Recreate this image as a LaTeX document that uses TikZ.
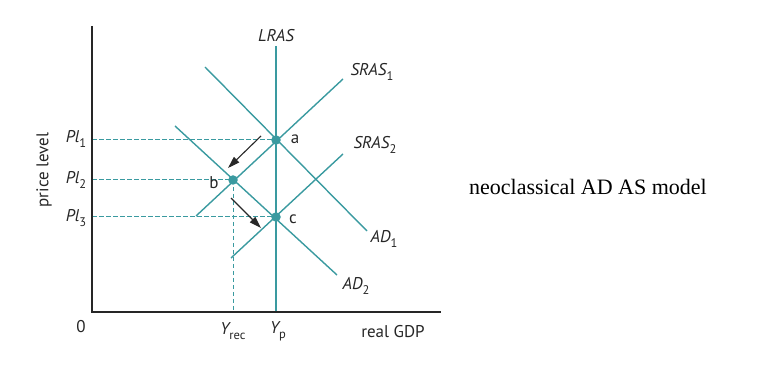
\documentclass[tikz,border=0pt]{standalone}
\usepackage{fontspec}
\setmainfont{Liberation Serif}
\newfontfamily\labfont{PT Sans}
\usetikzlibrary{arrows.meta}
\definecolor{tealc}{RGB}{58,154,160}
\definecolor{arrc}{RGB}{40,40,40}
\newcommand{\lsub}[1]{\raisebox{-0.55ex}{\fontsize{12.5}{12.5}\selectfont\upshape #1}}
\begin{document}
\begin{tikzpicture}[x=1pt,y=-1pt,
  curve/.style={tealc, line width=1.4pt},
  guide/.style={tealc, line width=1pt, dash pattern=on 4.5pt off 2.5pt},
  axis/.style={black!85, line width=1.6pt},
  dotpt/.style={circle, fill=tealc, inner sep=0pt, minimum size=9.5pt},
  movearrow/.style={arrc, line width=1.1pt, -{Triangle[length=12pt,width=7.5pt]}},
  lbl/.style={font=\labfont\fontsize{17}{17}\selectfont\itshape, text=black!85, inner sep=1pt},
  plain/.style={font=\labfont\fontsize{17}{17}\selectfont, text=black!85, inner sep=1pt}]
\useasboundingbox (0,0) rectangle (761,374);
% key coordinates
\coordinate (o) at (92,312);
\coordinate (ytop) at (92,26);
\coordinate (xend) at (441,312);
\coordinate (a) at (276,140);
\coordinate (b) at (233,180);
\coordinate (c) at (276,217);
\coordinate (p1) at (92,140);
\coordinate (p2) at (92,180);
\coordinate (p3) at (92,217);
\coordinate (yrecax) at (233,312);
\coordinate (lt) at (276,46);
\coordinate (lb) at (276,312);
\coordinate (s1a) at (196,216);
\coordinate (s1b) at (343,79);
\coordinate (s2a) at (231,258);
\coordinate (s2b) at (343,154);
\coordinate (d1a) at (205,67);
\coordinate (d1b) at (367,231);
\coordinate (d2a) at (175,126);
\coordinate (d2b) at (337,275);
\coordinate (ar1s) at (261,136);
\coordinate (ar1e) at (228,168);
\coordinate (ar2s) at (231,198);
\coordinate (ar2e) at (261,228);
% guides
\draw[guide] (p1) -- (a);
\draw[guide] (p2) -- (b);
\draw[guide] (p3) -- (c);
\draw[guide] (b) -- (yrecax);
% curves
\draw[curve] (lt) -- (lb);
\draw[curve] (s1a) -- (s1b);
\draw[curve] (s2a) -- (s2b);
\draw[curve] (d1a) -- (d1b);
\draw[curve] (d2a) -- (d2b);
% axes
\draw[axis] (ytop) -- (o) -- (xend);
% dots
\node[dotpt] (da) at (a) {};
\node[dotpt] (db) at (b) {};
\node[dotpt] (dc) at (c) {};
% shift arrows
\draw[movearrow] (ar1s) -- (ar1e);
\draw[movearrow] (ar2s) -- (ar2e);
% labels
\node[lbl] (tlras) at (276,36) {LRAS};
\node[lbl] (tsras1) at (372,72) {SRAS\lsub{1}};
\node[lbl] (tsras2) at (375,145) {SRAS\lsub{2}};
\node[lbl] (tad1) at (384,239) {AD\lsub{1}};
\node[lbl] (tad2) at (356,286) {AD\lsub{2}};
\node[plain] (ta) at (295,139) {a};
\node[plain] (tb) at (214,183) {b};
\node[plain] (tc) at (293,219) {c};
\node[lbl] (tp1) at (76,139) {Pl\lsub{1}};
\node[lbl] (tp2) at (76,180) {Pl\lsub{2}};
\node[lbl] (tp3) at (76,218) {Pl\lsub{3}};
\node[plain, rotate=90] (tprice) at (44,170) {price level};
\node[plain] (tzero) at (81,327) {0};
\node[plain] (tyrec) at (233,331) {\itshape Y\lsub{rec}};
\node[plain] (typ) at (278,331) {\itshape Y\lsub{p}};
\node[plain] (tgdp) at (393,332) {real GDP};
\node[font=\fontsize{22}{22}\selectfont, inner sep=0pt] (title) at (588,187) {neoclassical AD AS model};
\end{tikzpicture}
\end{document}
